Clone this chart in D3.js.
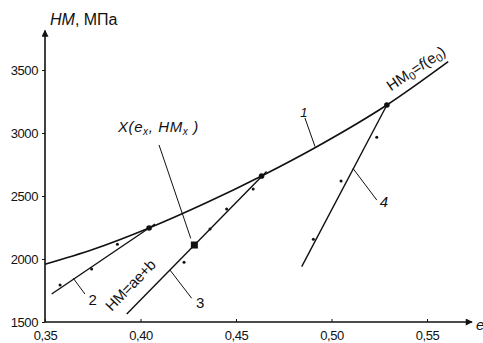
<!DOCTYPE html>
<html>
<head>
<meta charset="utf-8">
<script src="https://cdn.jsdelivr.net/npm/d3@7"></script>
<style>
  html, body { margin: 0; padding: 0; background: #fff; }
  svg { display: block; font-family: "Liberation Sans", Arial, sans-serif; }
</style>
</head>
<body>
<div id="chart"></div>
<script>
// axis ticks
const xTicks = [0.35, 0.40, 0.45, 0.50, 0.55];
const yTicks = [1500, 2000, 2500, 3000, 3500];

// curve 1: HM0 = f(e0)
const curveE = [0.35, 0.375, 0.4045, 0.435, 0.4634, 0.4923, 0.529, 0.5611];
const curveHM = [1958, 2075, 2246, 2450, 2659, 2891, 3222, 3566];

// straight lines 2, 3, 4 (end points)
const line2E = [0.3535, 0.4076];
const line2HM = [1722, 2278];
const line3E = [0.3928, 0.466];
const line3HM = [1563, 2694];
const line4E = [0.4844, 0.529];
const line4HM = [1939, 3222];

// measured points (small dots)
const dotE = [0.3579, 0.3744, 0.3879, 0.4228, 0.4364, 0.4451, 0.459, 0.4905, 0.505, 0.5237];
const dotHM = [1794, 1921, 2117, 1974, 2238, 2397, 2556, 2156, 2619, 2966];

// junction points on curve 1
const nodeE = [0.4045, 0.4634, 0.529];
const nodeHM = [2246, 2659, 3222];

// point X
const pointX = { e: 0.4282, hm: 2111 };

// leader lines [e1, hm1, e2, hm2]
const leaders = [
  [0.4861, 3119, 0.4914, 2891],
  [0.4097, 2905, 0.4263, 2164],
  [0.3648, 1847, 0.3709, 1722],
  [0.4154, 1913, 0.4268, 1688],
  [0.5113, 2718, 0.5237, 2468]
];

const width = 483, height = 343;
const svg = d3.select("#chart").append("svg")
  .attr("width", width).attr("height", height);

const x = d3.scaleLinear().domain([0.35, 0.55]).range([45, 427]);
const y = d3.scaleLinear().domain([1500, 3500]).range([322, 70]);

const ink = "#111";

// arrow marker
svg.append("defs").append("marker")
  .attr("id", "arr")
  .attr("viewBox", "0 0 10 10")
  .attr("refX", 9).attr("refY", 5)
  .attr("markerWidth", 10).attr("markerHeight", 7)
  .attr("markerUnits", "userSpaceOnUse")
  .attr("orient", "auto")
  .append("path").attr("d", "M0,0L10,5L0,10z").attr("fill", ink);

// axes lines with arrows
svg.append("line")
  .attr("x1", x(0.35)).attr("x2", x(0.5736))
  .attr("y1", y(1500)).attr("y2", y(1500))
  .attr("stroke", ink).attr("stroke-width", 1.6)
  .attr("marker-end", "url(#arr)");
svg.append("line")
  .attr("x1", x(0.35)).attr("x2", x(0.35))
  .attr("y1", y(1500)).attr("y2", y(3813))
  .attr("stroke", ink).attr("stroke-width", 1.6)
  .attr("marker-end", "url(#arr)");

const fmt = d => d3.format(".2f")(d).replace(".", ",");

const xAxis = svg.append("g")
  .attr("transform", `translate(0,${y(1500)})`)
  .call(d3.axisBottom(x).tickValues(xTicks).tickSize(-3).tickPadding(9).tickFormat(fmt));
const yAxis = svg.append("g")
  .attr("transform", `translate(${x(0.35)},0)`)
  .call(d3.axisLeft(y).tickValues(yTicks).tickSize(3).tickPadding(4).tickFormat(d3.format("d")));

[xAxis, yAxis].forEach(a => {
  a.select(".domain").remove();
  a.selectAll("line").attr("stroke", ink).attr("stroke-width", 1);
  a.selectAll("text")
    .attr("fill", ink)
    .style("font-size", "13px")
    .style("font-family", "'Liberation Sans', Arial, sans-serif")
    .attr("letter-spacing", "-0.4");
});

// axis titles
const yTitle = svg.append("text")
  .attr("x", x(0.35) + 5).attr("y", 25)
  .attr("fill", ink).style("font-size", "16px");
yTitle.append("tspan").style("font-style", "italic").text("HM");
yTitle.append("tspan").text(", МПа");

svg.append("text")
  .attr("x", 476).attr("y", 330)
  .attr("fill", ink).style("font-size", "15px").style("font-style", "italic")
  .text("e");

// curve 1
const curvePts = curveE.map((e, i) => [e, curveHM[i]]);
svg.append("path")
  .datum(curvePts)
  .attr("fill", "none").attr("stroke", ink).attr("stroke-width", 1.6)
  .attr("d", d3.line().x(d => x(d[0])).y(d => y(d[1])).curve(d3.curveMonotoneX));

// lines 2, 3, 4
[[line2E, line2HM], [line3E, line3HM], [line4E, line4HM]].forEach(([es, hs]) => {
  svg.append("path")
    .datum(es.map((e, i) => [e, hs[i]]))
    .attr("fill", "none").attr("stroke", ink).attr("stroke-width", 1.4)
    .attr("d", d3.line().x(d => x(d[0])).y(d => y(d[1])));
});

// leader lines
svg.selectAll(".leader")
  .data(leaders)
  .enter().append("line")
  .attr("class", "leader")
  .attr("x1", d => x(d[0])).attr("y1", d => y(d[1]))
  .attr("x2", d => x(d[2])).attr("y2", d => y(d[3]))
  .attr("stroke", ink).attr("stroke-width", 1);

// small dots
svg.selectAll(".dot")
  .data(dotE.map((e, i) => [e, dotHM[i]]))
  .enter().append("circle")
  .attr("class", "dot")
  .attr("cx", d => x(d[0])).attr("cy", d => y(d[1]))
  .attr("r", 1.5).attr("fill", ink);

// junction points
svg.selectAll(".node")
  .data(nodeE.map((e, i) => [e, nodeHM[i]]))
  .enter().append("circle")
  .attr("class", "node")
  .attr("cx", d => x(d[0])).attr("cy", d => y(d[1]))
  .attr("r", 2.8).attr("fill", ink);

// point X
svg.append("rect")
  .attr("x", x(pointX.e) - 3.5).attr("y", y(pointX.hm) - 3.5)
  .attr("width", 7).attr("height", 7)
  .attr("fill", ink);

// labels
const addLabel = (e, hm, txt, opts = {}) => svg.append("text")
  .attr("x", x(e)).attr("y", y(hm))
  .attr("text-anchor", opts.anchor || "middle")
  .attr("fill", ink)
  .style("font-size", (opts.size || 14) + "px")
  .style("font-style", opts.italic ? "italic" : "normal")
  .text(txt);

addLabel(0.4855, 3127, "1", { italic: true, size: 13 });
addLabel(0.3749, 1635, "2", { size: 15 });
addLabel(0.4312, 1611, "3", { size: 15 });
addLabel(0.5275, 2413, "4", { size: 15, italic: true });

// X(ex, HMx)
const xl = svg.append("text")
  .attr("x", x(0.3882)).attr("y", y(3008))
  .attr("fill", ink).style("font-size", "15px").style("font-style", "italic")
  .attr("letter-spacing", "0.6");
xl.append("tspan").text("X(e");
xl.append("tspan").attr("dy", 3).style("font-size", "10px").text("x");
xl.append("tspan").attr("dy", -3).text(", HM");
xl.append("tspan").attr("dy", 3).style("font-size", "10px").text("x");
xl.append("tspan").attr("dy", -3).text(" )");

// HM=ae+b along line 3
svg.append("text")
  .attr("transform", `translate(${x(0.3850)},${y(1580)}) rotate(-46)`)
  .attr("fill", ink).style("font-size", "15px")
  .attr("letter-spacing", "-0.2")
  .text("HM=ae+b");

// HM0=f(e0) along curve 1
const fl = svg.append("text")
  .attr("transform", `translate(${x(0.5312)},${y(3330)}) rotate(-34)`)
  .attr("fill", ink).style("font-size", "15px");
fl.append("tspan").text("HM");
fl.append("tspan").attr("dy", 3).style("font-size", "11px").text("0");
fl.append("tspan").attr("dy", -3).text("=");
fl.append("tspan").style("font-style", "italic").text("f");
fl.append("tspan").text("(e");
fl.append("tspan").attr("dy", 3).style("font-size", "11px").text("0");
fl.append("tspan").attr("dy", -3).text(")");
</script>
</body>
</html>
